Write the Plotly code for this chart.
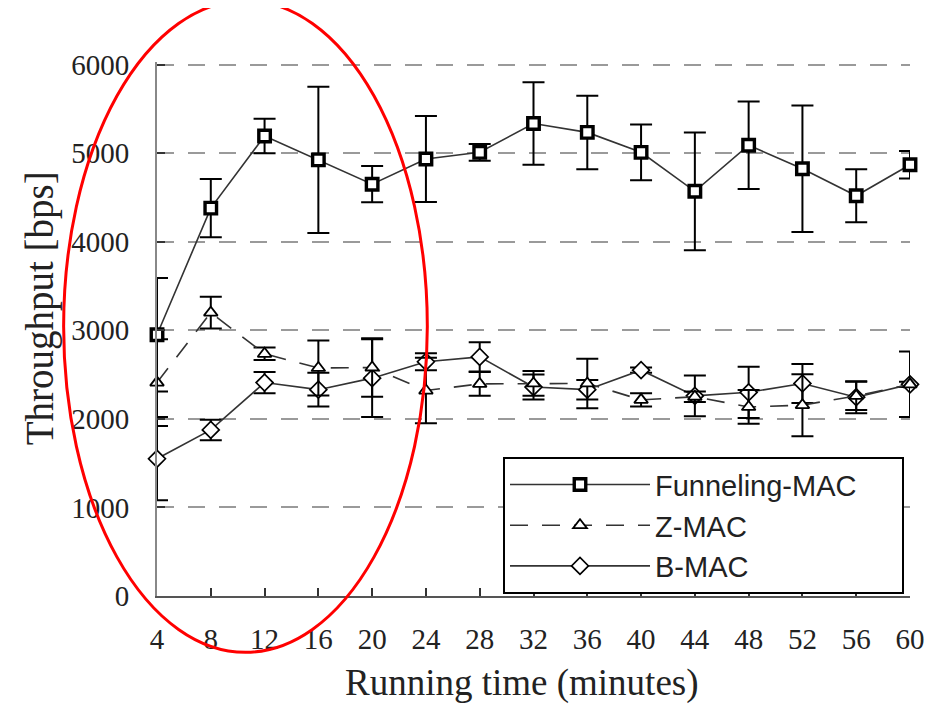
import plotly.graph_objects as go

times = [4, 8, 12, 16, 20, 24, 28, 32, 36, 40, 44, 48, 52, 56, 60]

funnel_vals = [2950, 4380, 5195, 4925, 4650, 4935, 5010, 5335, 5235, 5010, 4570, 5090, 4825, 4520, 4870]
funnel_err = [640, 330, 195, 825, 205, 485, 95, 465, 415, 315, 665, 495, 715, 300, 155]

zmac_vals = [2410, 3200, 2735, 2575, 2580, 2320, 2395, 2400, 2400, 2215, 2250, 2135, 2155, 2260, 2390]
zmac_err = [490, 180, 70, 310, 330, 370, 135, 140, 280, 75, 60, 190, 350, 160, 370]

bmac_vals = [1550, 1875, 2410, 2330, 2460, 2645, 2700, 2360, 2330, 2550, 2260, 2300, 2400, 2245, 2390]
bmac_err = [470, 115, 120, 190, 440, 95, 165, 140, 110, 30, 230, 290, 220, 180, 30]

y_ticks = [0, 1000, 2000, 3000, 4000, 5000, 6000]

series_names = ["Funneling-MAC\u00a0\u00a0\u00a0\u00a0\u00a0", "Z-MAC", "B-MAC"]
x_title = "Running time (minutes)"
y_title = "Throughput [bps]"

fig = go.Figure()

def add_series(name, vals, errs, symbol, msize, mline, dash):
    fig.add_trace(go.Scatter(
        x=times, y=vals, name=name, mode="lines+markers",
        line=dict(color="#333333", width=1.6, dash=dash),
        marker=dict(symbol=symbol, size=msize, color="white",
                    line=dict(color="black", width=mline)),
        error_y=dict(type="data", array=errs, visible=True,
                     color="black", thickness=2, width=11),
        cliponaxis=False,
    ))

add_series(series_names[2], bmac_vals, bmac_err, "diamond", 13, 1.7, "solid")
add_series(series_names[1], zmac_vals, zmac_err, "triangle-up", 12, 1.8, "18px,14px")
add_series(series_names[0], funnel_vals, funnel_err, "square", 11.5, 3.4, "solid")

title_font = dict(family="Liberation Serif", size=37, color="#222222")

fig.update_layout(
    width=940, height=705,
    margin=dict(l=149, r=38, t=54, b=117),
    paper_bgcolor="white", plot_bgcolor="white",
    showlegend=True,
    legend=dict(
        x=0.4595, y=0.26, xanchor="left", yanchor="top",
        traceorder="reversed",
        bordercolor="black", borderwidth=2, bgcolor="white",
        font=dict(family="Liberation Sans", size=29, color="#222222"),
        itemwidth=140,
    ),
    xaxis=dict(
        range=[4, 60], tickvals=times, ticktext=[str(t) for t in times],
        automargin=False,
        showgrid=False, zeroline=False,
        showline=True, linecolor="#555555", linewidth=1.5,
        ticks="inside", ticklen=8, tickcolor="#333333", tickwidth=1.5,
        tickfont=dict(family="Liberation Serif", size=29, color="#222222"),
        ticklabelstandoff=16,
    ),
    yaxis=dict(
        range=[0, 6030], tickvals=y_ticks,
        automargin=False,
        showgrid=True, gridcolor="#9a9a9a", gridwidth=1.5, griddash="17px,14px",
        zeroline=False,
        showline=True, linecolor="#888888", linewidth=2,
        ticks="inside", ticklen=8, tickcolor="#333333", tickwidth=1.5,
        tickfont=dict(family="Liberation Serif", size=29, color="#222222"),
        ticklabelstandoff=20,
    ),
    annotations=[
        dict(text=x_title, xref="paper", yref="paper", x=0.4847, y=-0.163,
             xanchor="center", yanchor="middle", showarrow=False, font=title_font),
        dict(text=y_title, xref="paper", yref="paper", x=-0.1554, y=0.5386,
             xanchor="center", yanchor="middle", showarrow=False, textangle=-90,
             font=dict(family="Liberation Serif", size=39, color="#222222")),
    ],
    shapes=[dict(
        type="circle", xref="paper", yref="paper",
        x0=-0.124, x1=0.359, y0=-0.1055, y1=1.115,
        line=dict(color="red", width=3), layer="above",
    )],
)

fig.write_html("out.html")
